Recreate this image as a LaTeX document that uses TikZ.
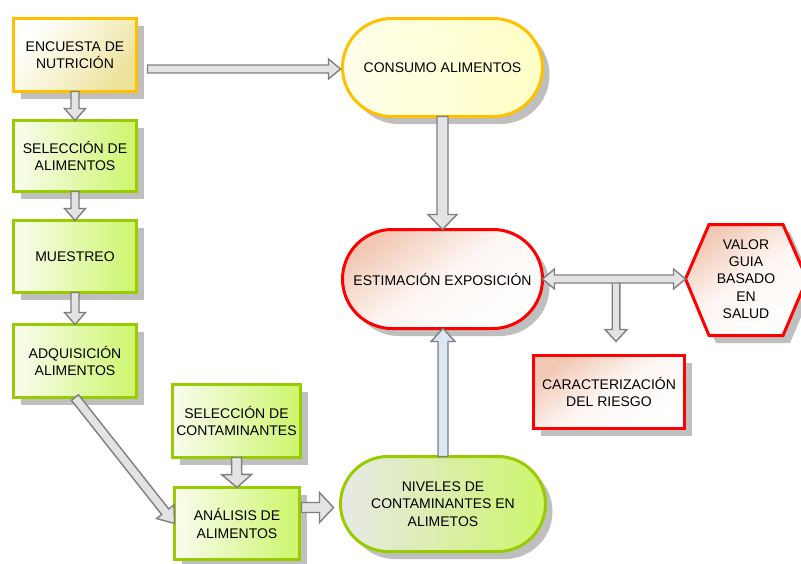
\documentclass[tikz,border=0pt]{standalone}
\usepackage{fontspec}
\setmainfont{Liberation Sans}
\usetikzlibrary{calc,shadows}

\definecolor{gold}{HTML}{FFC000}
\definecolor{sand}{HTML}{ECE29A}
\definecolor{lime}{HTML}{99CC00}
\definecolor{limefill}{HTML}{CDF56B}
\definecolor{peach}{HTML}{F2C8B4}
\definecolor{arrowline}{HTML}{7F7F7F}
\definecolor{arrowfill}{HTML}{E3E3E3}
\definecolor{bluefill}{HTML}{DDE7F3}

\tikzset{
  txt/.style={font=\fontsize{14}{17.3}\selectfont, align=center, text=black},
  shad/.style={drop shadow={shadow xshift=7pt, shadow yshift=-7.5pt, fill=black!25, opacity=1}},
  box/.style={txt, shad, rectangle, line width=3pt, outer sep=0pt, inner sep=2pt},
  yellowbox/.style={box, draw=gold, top color=white, bottom color=sand, middle color=white!55!sand, shading angle=50},
  greenbox/.style={box, draw=lime, left color=lime!6!white, right color=limefill},
  redbox/.style={box, draw=red, top color=peach, bottom color=white, middle color=white!85!peach, shading angle=35},
  barrow/.style={draw=arrowline, fill=arrowfill, line width=1.4pt, line join=miter},
}

% straight block arrow: [style]{from}{to}{half shaft}{head length}{half head}
\newcommand\blockarrow[6][]{%
  \draw[barrow,#1] let \p1=(#2), \p2=(#3),
      \n1={atan2((\y2)-(\y1),(\x2)-(\x1))},
      \n2={veclen((\x2)-(\x1),(\y2)-(\y1))} in
    [shift={(\p1)}, rotate=\n1]
    (0pt,#4) -- ({\n2-#5},#4) -- ({\n2-#5},#6) -- ({\n2},0pt)
    -- ({\n2-#5},-#6) -- ({\n2-#5},-#4) -- (0pt,-#4) -- cycle;
}
% block arrow with a head at each end
\newcommand\dblarrow[6][]{%
  \draw[barrow,#1] let \p1=(#2), \p2=(#3),
      \n1={atan2((\y2)-(\y1),(\x2)-(\x1))},
      \n2={veclen((\x2)-(\x1),(\y2)-(\y1))} in
    [shift={(\p1)}, rotate=\n1]
    (#5,#4) -- ({\n2-#5},#4) -- ({\n2-#5},#6) -- ({\n2},0pt)
    -- ({\n2-#5},-#6) -- ({\n2-#5},-#4) -- (#5,-#4) -- (#5,-#6)
    -- (0pt,0pt) -- (#5,#6) -- cycle;
}

\begin{document}
\begin{tikzpicture}[x=1pt, y=-1pt]
\useasboundingbox (0,0) rectangle (801,563);
\clip (0,0) rectangle (801,563);

% left column
\node[yellowbox, minimum width=123pt, minimum height=73pt] (enc) at (75,55) {ENCUESTA DE\\NUTRICIÓN};
\node[greenbox, minimum width=123pt, minimum height=71pt] (sel) at (75,156) {SELECCIÓN DE\\ALIMENTOS};
\node[greenbox, minimum width=123pt, minimum height=72pt] (mue) at (75,256.5) {MUESTREO};
\node[greenbox, minimum width=123pt, minimum height=73pt] (adq) at (75,361) {ADQUISICIÓN\\ALIMENTOS};
\node[greenbox, minimum width=128pt, minimum height=73pt] (selc) at (236.5,421) {SELECCIÓN DE\\CONTAMINANTES};
\node[greenbox, minimum width=125pt, minimum height=72pt] (ana) at (237,523.5) {ANÁLISIS DE\\ALIMENTOS};

% centre column
\node[box, draw=gold, left color=yellow!8!white, right color=yellow!22!white,
      minimum width=200pt, minimum height=98pt, rounded corners=49pt] (con) at (442.5,67.5) {CONSUMO ALIMENTOS};
\node[redbox, minimum width=200pt, minimum height=99pt, rounded corners=49.5pt] (est) at (442.5,279) {ESTIMACIÓN EXPOSICIÓN};
\node[box, draw=lime, left color=black!9, right color=limefill,
      minimum width=205pt, minimum height=95pt, rounded corners=47.5pt] (niv) at (443,504) {NIVELES DE\\CONTAMINANTES EN\\ALIMETOS};

% right side
\node[redbox, minimum width=151pt, minimum height=73pt] (car) at (609,392) {CARACTERIZACIÓN\\DEL RIESGO};
\path[shad, draw=red, line width=3pt, top color=peach, bottom color=white, middle color=white!85!peach, shading angle=35]
  (685.5,279) -- (709,224.5) -- (783,224.5) -- (807,279) -- (783,335.5) -- (709,335.5) -- cycle;
\node[txt] (valor) at (746,279) {VALOR\\GUIA\\BASADO\\EN\\SALUD};
\coordinate (valor-w) at (685.5,279);

% connectors
\coordinate (e1) at ($(enc.east)+(11,14)$);
\coordinate (c1) at ($(con.west)+(-2,1.5)$);
\blockarrow{e1}{c1}{4pt}{12pt}{10pt}
\blockarrow{enc.south}{sel.north}{4pt}{12pt}{10.5pt}
\blockarrow{sel.south}{mue.north}{4pt}{12pt}{10.5pt}
\blockarrow{mue.south}{adq.north}{4pt}{12pt}{10.5pt}
\blockarrow{adq.south}{ana.west}{4.5pt}{15pt}{11pt}
\blockarrow{selc.south}{ana.north}{5pt}{13pt}{15pt}
\coordinate (a1) at ($(ana.east)+(2,-16)$);
\coordinate (n1) at ($(niv.west)+(-7,3.5)$);
\blockarrow{a1}{n1}{5pt}{14pt}{15pt}
\blockarrow{con.south}{est.north}{5.5pt}{15pt}{14.5pt}
\coordinate (n2) at (niv.north |- est.south);
\blockarrow[fill=bluefill]{niv.north}{n2}{5pt}{13pt}{12pt}
\coordinate (br) at (616,279);
\coordinate (bre) at ($(br |- car.north)+(0,-14)$);
\blockarrow{br}{bre}{3.8pt}{12pt}{11pt}
\dblarrow{est.east}{valor-w}{4pt}{12pt}{10pt}
\end{tikzpicture}
\end{document}
